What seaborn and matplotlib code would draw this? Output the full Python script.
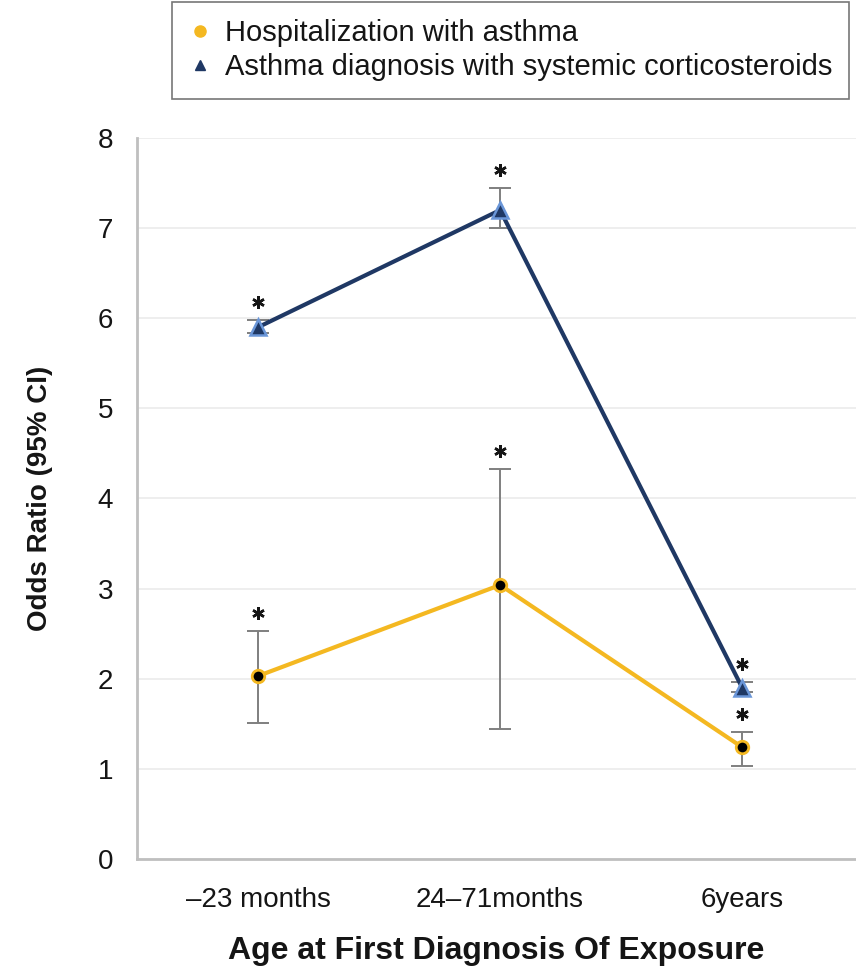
import numpy as np
import pandas as pd
import matplotlib
matplotlib.use("Agg")
import matplotlib.pyplot as plt
import seaborn as sns
from matplotlib.lines import Line2D

categories = ["\u201323 months", "24\u201371months", "6years"]
series_names = ["Hospitalization with asthma", "Asthma diagnosis with systemic corticosteroids"]

hosp_or = [2.03, 3.04, 1.24]
hosp_lo = [1.51, 1.44, 1.03]
hosp_hi = [2.53, 4.33, 1.41]

ocs_or = [5.90, 7.20, 1.90]
ocs_lo = [5.84, 7.00, 1.85]
ocs_hi = [5.98, 7.44, 1.96]

gold = "#F4B821"
navy = "#1F3864"
light_blue = "#6A96D8"
grey = "#BFBFBF"
ink = "#151515"

sns.set_style("white")
plt.rcParams["font.family"] = ["Liberation Sans", "DejaVu Sans"]
plt.rcParams["text.color"] = ink
plt.rcParams["axes.labelcolor"] = ink
plt.rcParams["xtick.labelcolor"] = ink
plt.rcParams["ytick.labelcolor"] = ink

df = pd.DataFrame({
    "age": categories * 2,
    "or": hosp_or + ocs_or,
    "series": [series_names[0]] * 3 + [series_names[1]] * 3,
})

fig = plt.figure(figsize=(8.56, 9.67), dpi=100)
ax = fig.add_axes([0.160, 0.1117, 0.840, 0.7456])

x = np.arange(len(categories))

# error bars first so the markers sit on top
for lo, hi, mid in [(hosp_lo, hosp_hi, hosp_or), (ocs_lo, ocs_hi, ocs_or)]:
    mid = np.array(mid)
    ax.errorbar(x, mid, yerr=[mid - np.array(lo), np.array(hi) - mid], fmt="none",
                ecolor="#7F7F7F", elinewidth=1.4, capsize=8, capthick=1.4, zorder=2)

sns.pointplot(data=df[df["series"] == series_names[0]], x="age", y="or", order=categories,
              color=gold, markers="o", errorbar=None, ax=ax,
              markerfacecolor="black", markeredgecolor=gold, markersize=9,
              markeredgewidth=2, linewidth=3, zorder=3)
sns.pointplot(data=df[df["series"] == series_names[1]], x="age", y="or", order=categories,
              color=navy, markers="^", errorbar=None, ax=ax,
              markerfacecolor=navy, markeredgecolor=light_blue, markersize=11,
              markeredgewidth=1.8, linewidth=3, zorder=4)

# significance stars
for hi in [hosp_hi, ocs_hi]:
    ax.plot(x, np.array(hi) + 0.2, linestyle="none", marker=(6, 2, 0),
            markersize=9, markeredgewidth=1.8, color=ink, zorder=5)

ax.set_ylim(0, 8)
ax.set_xlim(-0.5, 2.47)
ax.set_yticks(range(0, 9))
ax.yaxis.grid(True, color="#EBEBEB", linewidth=1.2)
ax.set_axisbelow(True)

for s in ["top", "right"]:
    ax.spines[s].set_visible(False)
for s in ["left", "bottom"]:
    ax.spines[s].set_color(grey)
    ax.spines[s].set_linewidth(2)

ax.tick_params(axis="y", length=7, width=1.5, color=grey, labelsize=20, pad=10)
ax.tick_params(axis="x", length=0, labelsize=20, pad=20)
ax.set_xticks([0.5, 1.5], minor=True)
ax.tick_params(axis="x", which="minor", length=7, width=1.5, color=grey)

ax.set_xlabel("Age at First Diagnosis Of Exposure", fontsize=23, fontweight="bold", labelpad=17)
ax.set_ylabel("Odds Ratio (95% CI)", fontsize=20, fontweight="bold", labelpad=32)

handles = [
    Line2D([], [], linestyle="none", marker="o", color=gold, markersize=8),
    Line2D([], [], linestyle="none", marker="^", color=navy, markersize=7),
]
leg = fig.legend(handles, series_names, loc="upper left", bbox_to_anchor=(0.201, 0.998),
                 frameon=True, fancybox=False, fontsize=21, handlelength=0.7,
                 handletextpad=0.5, borderpad=0.6, labelspacing=0.2, borderaxespad=0)
leg.get_frame().set_edgecolor("#555555")
leg.get_frame().set_linewidth(1.2)

fig.savefig("out.png", dpi=100)
